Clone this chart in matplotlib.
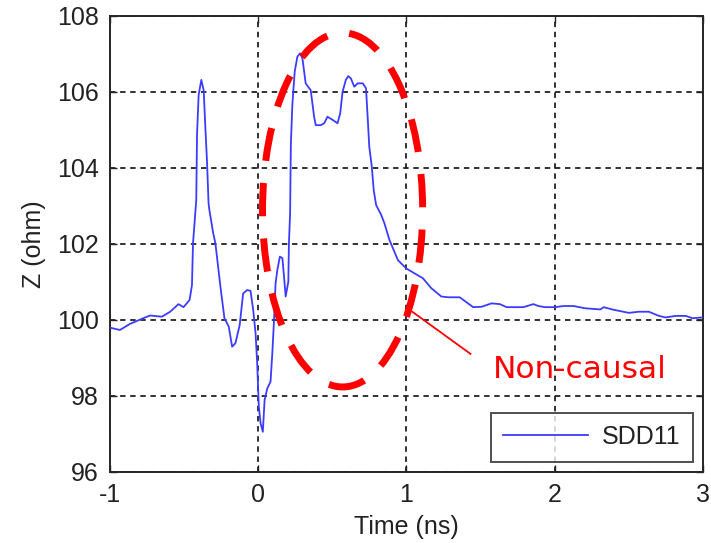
import matplotlib
matplotlib.use("Agg")
import matplotlib.pyplot as plt
from matplotlib.patches import Ellipse

# ---- data ----
time_ns = [-1.000, -0.933, -0.865, -0.775, -0.730, -0.650, -0.594, -0.538, -0.504, -0.463,
           -0.447, -0.440, -0.418, -0.413, -0.402, -0.384, -0.368, -0.357, -0.346, -0.335,
           -0.330, -0.305, -0.289, -0.255, -0.228, -0.199, -0.176, -0.154, -0.125, -0.102,
           -0.075, -0.052, -0.034, -0.018, -0.007, 0.004, 0.016, 0.031, 0.043, 0.061,
           0.083, 0.095, 0.106, 0.117, 0.129, 0.146, 0.163, 0.174, 0.185, 0.203,
           0.207, 0.215, 0.220, 0.230, 0.246, 0.264, 0.282, 0.298, 0.320, 0.354,
           0.377, 0.388, 0.422, 0.445, 0.467, 0.501, 0.535, 0.553, 0.569, 0.591,
           0.607, 0.625, 0.648, 0.671, 0.705, 0.727, 0.738, 0.749, 0.766, 0.779,
           0.795, 0.829, 0.851, 0.885, 0.942, 0.998, 1.054, 1.111, 1.167, 1.235,
           1.280, 1.359, 1.450, 1.506, 1.574, 1.630, 1.675, 1.789, 1.856, 1.890,
           1.935, 2.003, 2.060, 2.127, 2.206, 2.308, 2.330, 2.387, 2.500, 2.568,
           2.635, 2.703, 2.748, 2.816, 2.884, 2.929, 3.000]
z_ohm = [99.79, 99.73, 99.89, 100.04, 100.11, 100.08, 100.21, 100.41, 100.33, 100.52,
         100.91, 102.01, 103.15, 104.86, 105.91, 106.31, 106.04, 105.08, 104.20, 103.06,
         102.90, 102.30, 102.01, 100.87, 100.04, 99.82, 99.29, 99.38, 99.86, 100.69,
         100.78, 100.76, 100.26, 99.64, 98.85, 97.71, 97.27, 97.05, 97.89, 98.19,
         98.37, 99.12, 99.95, 100.96, 101.31, 101.66, 101.62, 101.13, 100.61, 101.00,
         102.01, 102.80, 104.60, 105.65, 106.53, 106.92, 107.01, 106.88, 106.22, 106.04,
         105.34, 105.12, 105.12, 105.17, 105.34, 105.26, 105.17, 105.43, 106.00, 106.31,
         106.41, 106.35, 106.13, 106.22, 106.22, 106.09, 105.34, 104.55, 104.03, 103.41,
         103.02, 102.76, 102.54, 102.10, 101.57, 101.35, 101.22, 101.09, 100.83, 100.61,
         100.59, 100.59, 100.33, 100.34, 100.43, 100.41, 100.33, 100.33, 100.41, 100.36,
         100.33, 100.33, 100.36, 100.36, 100.30, 100.27, 100.33, 100.27, 100.18, 100.21,
         100.21, 100.10, 100.06, 100.10, 100.10, 100.04, 100.06]

x_ticks = [-1, 0, 1, 2, 3]
y_ticks = [96, 98, 100, 102, 104, 106, 108]
series_label = "SDD11"
x_label = "Time (ns)"
y_label = "Z (ohm)"
note_text = "Non-causal"

# ellipse highlight (data coords): center, width, height
ellipse_center = (0.569, 102.89)
ellipse_size = (1.08, 9.32)
# annotation leader line (data coords) and text position
leader_x = [1.039, 1.432]
leader_y = [100.21, 99.10]
note_pos = (2.168, 98.70)

# ---- figure ----
plt.rcParams['font.family'] = ['Liberation Sans', 'DejaVu Sans']
text_col = '#222222'
fig = plt.figure(figsize=(7.11, 5.43), dpi=100)
ax = fig.add_axes([0.1547, 0.1313, 0.9887 - 0.1547, 0.9711 - 0.1313])

ax.plot(time_ns, z_ohm, color='#3c3cff', lw=1.3, label=series_label, zorder=3)

ax.set_xlim(x_ticks[0], x_ticks[-1])
ax.set_ylim(y_ticks[0], y_ticks[-1])
ax.set_xticks(x_ticks)
ax.set_yticks(y_ticks)
ax.set_xticklabels(['-1', '0', '1', '2', '3'])
ax.tick_params(direction='in', length=5, width=1.0, top=True, right=True,
               labelsize=18, colors='#222222', pad=8)
for s in ax.spines.values():
    s.set_linewidth(1.4)
    s.set_color('#262626')

ax.grid(True, color='#222222', linestyle=(0, (3, 2.6)), linewidth=1.3)
ax.set_axisbelow(True)

ax.set_xlabel(x_label, fontsize=18, color=text_col, labelpad=6)
ax.set_ylabel(y_label, fontsize=18, color=text_col, labelpad=8)

leg = ax.legend(loc='lower right', fontsize=18, frameon=True, fancybox=False,
                handlelength=3.4, handletextpad=0.55, borderpad=0.5,
                borderaxespad=0.4)
leg.get_frame().set_edgecolor('#222222')
leg.get_frame().set_linewidth(1.4)
for t in leg.get_texts():
    t.set_color(text_col)

ell = Ellipse(ellipse_center, ellipse_size[0], ellipse_size[1], fill=False,
              edgecolor='#ff0000', lw=5, linestyle=(1.5, (4.8, 3.2)), zorder=4)
ax.add_patch(ell)

ax.plot(leader_x, leader_y, color='#ff0000', lw=1.3, zorder=4)
ax.text(note_pos[0], note_pos[1], note_text, color='#ff0000', fontsize=22.5,
        family=['DejaVu Sans'], ha='center', va='center', zorder=5)

fig.savefig('out.png', dpi=100)
